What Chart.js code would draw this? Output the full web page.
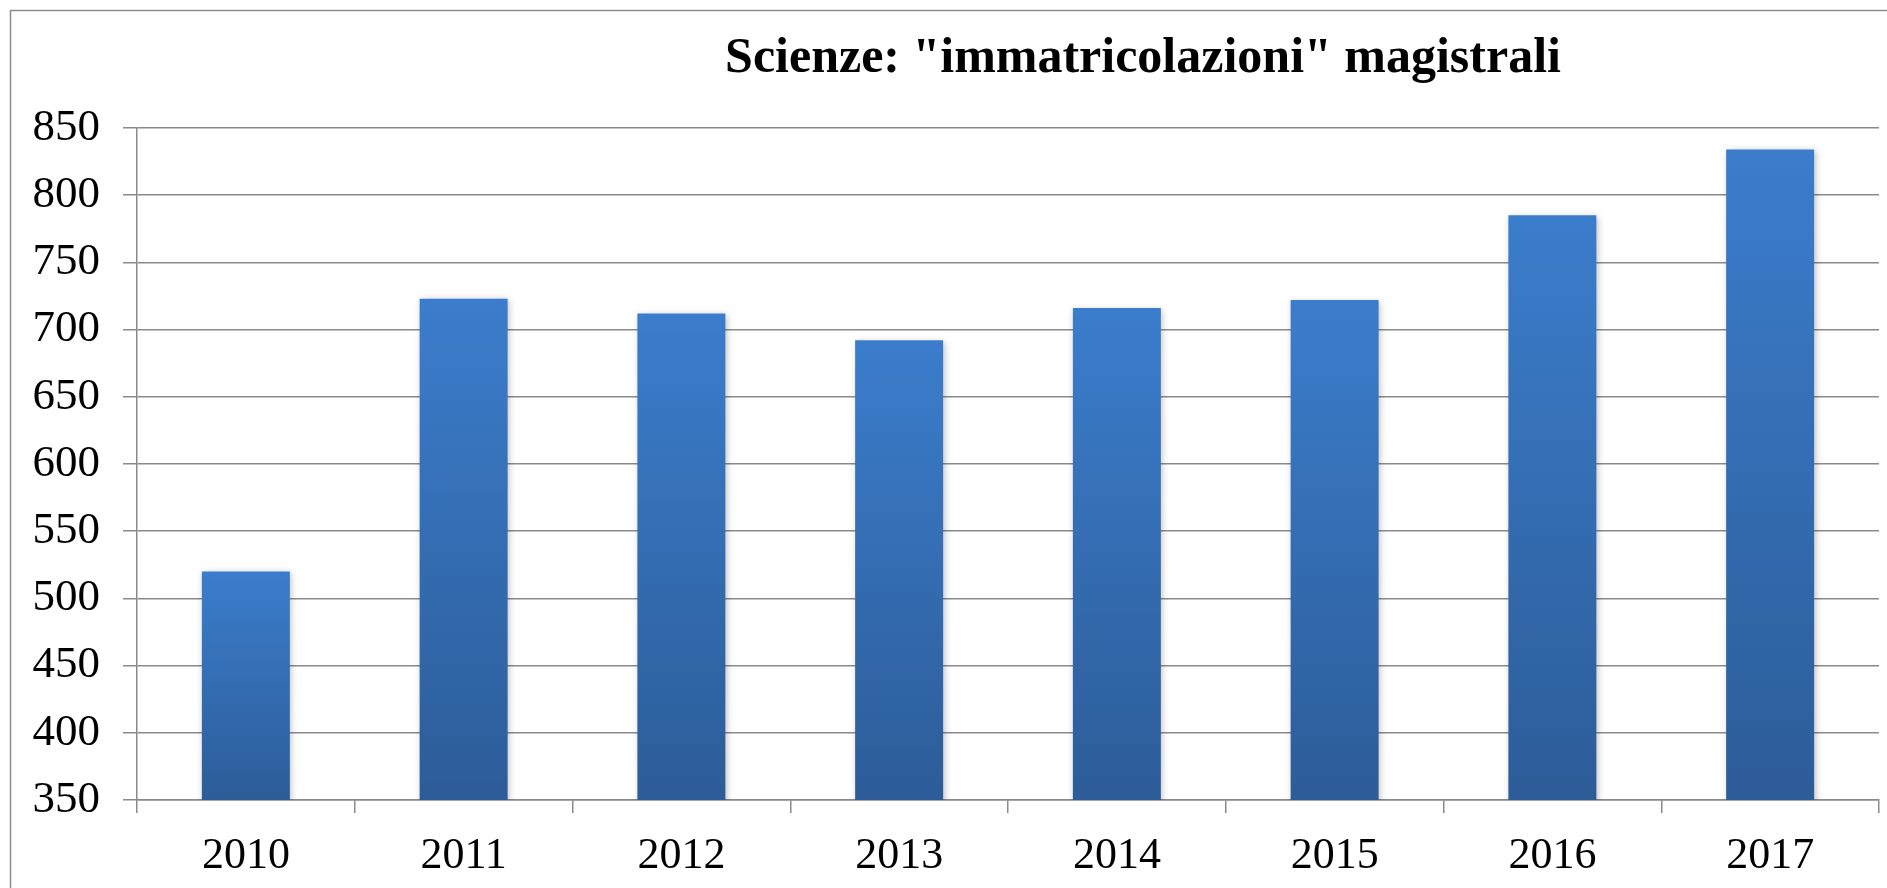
<!DOCTYPE html>
<html>
<head>
<meta charset="utf-8">
<script src="https://cdn.jsdelivr.net/npm/chart.js@4/dist/chart.umd.min.js"></script>
<style>
  html, body { margin: 0; padding: 0; background: #ffffff; overflow: hidden; }
  #wrap { position: absolute; left: 0; top: 0; width: 1887px; height: 888px; }
</style>
</head>
<body>
<div id="wrap"><canvas id="c" width="1887" height="888"></canvas></div>
<script>
const titleText = 'Scienze: "immatricolazioni" magistrali';
const categories = ['2010', '2011', '2012', '2013', '2014', '2015', '2016', '2017'];
const values = [520, 723, 712, 692, 716, 722, 785, 834];
const yMin = 350;
const yMax = 850;
const yStep = 50;

const GRID = '#8a8a8a';
const TOP_BLUE = '#3B7DCC';
const BOTTOM_BLUE = '#2D5C98';
const SERIF = '"Liberation Serif", "DejaVu Serif", serif';

function barGradient(ctx) {
  const chart = ctx.chart;
  const area = chart.chartArea;
  const y = chart.scales.y;
  if (!area || !y || ctx.type !== 'data') return TOP_BLUE;
  const top = y.getPixelForValue(ctx.raw);
  const base = y.getPixelForValue(yMin);
  if (!isFinite(top) || !isFinite(base) || base <= top) return TOP_BLUE;
  const g = chart.ctx.createLinearGradient(0, top, 0, base);
  g.addColorStop(0, TOP_BLUE);
  g.addColorStop(1, BOTTOM_BLUE);
  return g;
}

const framePlugin = {
  id: 'frame',
  beforeDraw(chart) {
    const c = chart.ctx;
    c.save();
    c.strokeStyle = '#8c8c8c';
    c.lineWidth = 1.5;
    c.beginPath();
    c.moveTo(10.5, chart.height + 5);
    c.lineTo(10.5, 10.5);
    c.lineTo(chart.width + 5, 10.5);
    c.stroke();
    c.restore();
  }
};

const titleShift = {
  id: 'titleShift',
  afterLayout(chart) {
    const tb = chart.titleBlock;
    if (tb) {
      const centre = 1143;
      tb.left = 2 * centre - tb.right;
    }
  }
};

const shadowPlugin = {
  id: 'barShadow',
  beforeDatasetsDraw(chart) {
    const c = chart.ctx;
    c.save();
    c.shadowColor = 'rgba(0,0,0,0.28)';
    c.shadowBlur = 7;
    c.shadowOffsetX = 1.5;
    c.shadowOffsetY = 1.5;
  },
  afterDatasetsDraw(chart) {
    chart.ctx.restore();
  }
};

new Chart(document.getElementById('c'), {
  type: 'bar',
  data: {
    labels: categories,
    datasets: [{
      data: values,
      backgroundColor: barGradient,
      borderWidth: 0,
      barPercentage: 0.404,
      categoryPercentage: 1.0
    }]
  },
  options: {
    responsive: false,
    animation: false,
    events: [],
    layout: { padding: { left: 29, right: 8, top: 14, bottom: 0 } },
    plugins: {
      legend: { display: false },
      tooltip: { enabled: false },
      title: {
        display: true,
        text: titleText,
        color: '#000000',
        font: { family: SERIF, size: 50, weight: 'bold' },
        padding: { top: 15, bottom: 39 }
      }
    },
    scales: {
      x: {
        offset: true,
        afterFit(scale) { scale.height = 88; },
        grid: {
          offset: true,
          drawOnChartArea: false,
          drawTicks: true,
          tickLength: 13,
          color: GRID,
          lineWidth: 1.5
        },
        border: { display: true, color: GRID, width: 1.5 },
        ticks: {
          color: '#000000',
          padding: 17,
          font: { family: SERIF, size: 44 }
        }
      },
      y: {
        min: yMin,
        max: yMax,
        afterFit(scale) { scale.width = 108; },
        grid: {
          color: GRID,
          lineWidth: 1.5,
          drawTicks: true,
          tickLength: 14
        },
        border: { display: true, color: GRID, width: 1.5 },
        ticks: {
          stepSize: yStep,
          color: '#000000',
          padding: 23,
          font: { family: SERIF, size: 45 }
        }
      }
    }
  },
  plugins: [framePlugin, titleShift, shadowPlugin]
});
</script>
</body>
</html>
